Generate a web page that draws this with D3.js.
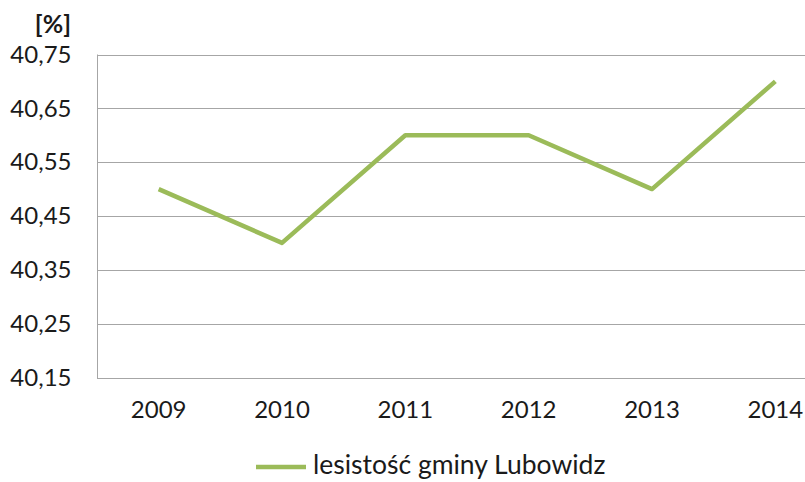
<!DOCTYPE html>
<html>
<head>
<meta charset="utf-8">
<script src="https://cdn.jsdelivr.net/npm/d3@7"></script>
<style>
  body { margin: 0; background: #fff; }
  svg { display: block; }
  text { font-family: Lato, "Open Sans", "Liberation Sans", sans-serif; fill: #1a1a1a; }
</style>
</head>
<body>
<svg id="chart" width="805" height="482"></svg>
<script>
// Forest cover of Lubowidz commune, per year
const years = ["2009", "2010", "2011", "2012", "2013", "2014"];
const forestCover = [40.5, 40.4, 40.6, 40.6, 40.5, 40.7];
const yTicks = [40.15, 40.25, 40.35, 40.45, 40.55, 40.65, 40.75];
const seriesName = "lesistość gminy Lubowidz";
const unitLabel = "[%]";

(function draw() {
  const svg = d3.select("#chart");
  const plotLeft = 97, plotRight = 837, plotTop = 54.5, plotBottom = 377.5;

  const x = d3.scaleBand().domain(years).range([plotLeft, plotRight]);
  const y = d3.scaleLinear().domain([40.15, 40.75]).range([plotBottom, plotTop]);

  const fmt = v => d3.format(".2f")(v).replace(".", ",");

  // Horizontal gridlines
  svg.append("g")
    .selectAll("line")
    .data(yTicks)
    .join("line")
    .attr("x1", plotLeft).attr("x2", 805)
    .attr("y1", d => Math.round(y(d)) + 0.5).attr("y2", d => Math.round(y(d)) + 0.5)
    .attr("stroke", "#a6a6a6").attr("stroke-width", 1);

  // Y axis
  const yAxis = svg.append("g")
    .attr("transform", `translate(${plotLeft + 0.5},0)`)
    .call(d3.axisLeft(y).tickValues(yTicks).tickFormat(fmt).tickSize(0).tickPadding(26));
  yAxis.select(".domain").attr("stroke", "#a6a6a6").attr("d", `M0,${plotTop}V${plotBottom + 0.5}`);
  yAxis.selectAll("text").attr("font-size", 24).attr("fill", "#1a1a1a");

  // X axis labels
  const xAxis = svg.append("g")
    .attr("transform", `translate(0,${plotBottom})`)
    .call(d3.axisBottom(x).tickSize(0).tickPadding(23));
  xAxis.select(".domain").remove();
  xAxis.selectAll("text").attr("font-size", 24).attr("fill", "#1a1a1a");

  // Unit label
  svg.append("text")
    .attr("x", 71).attr("y", 27)
    .attr("text-anchor", "end").attr("dominant-baseline", "middle")
    .attr("font-size", 25).attr("font-weight", "bold")
    .text(unitLabel);

  // Series line
  const line = d3.line()
    .x((d, i) => x(years[i]) + x.bandwidth() / 2)
    .y(d => y(d));
  svg.append("path")
    .datum(forestCover)
    .attr("d", line)
    .attr("fill", "none")
    .attr("stroke", "#9bbb59")
    .attr("stroke-width", 4.5)
    .attr("stroke-linejoin", "round");

  // Legend
  const legend = svg.append("g").attr("transform", "translate(256,467)");
  legend.append("line")
    .attr("x1", 0).attr("x2", 50).attr("y1", 0).attr("y2", 0)
    .attr("stroke", "#9bbb59").attr("stroke-width", 4.5);
  legend.append("text")
    .attr("x", 57).attr("y", 0)
    .attr("dominant-baseline", "middle")
    .attr("font-size", 26.5)
    .text(seriesName);
})();
</script>
</body>
</html>
